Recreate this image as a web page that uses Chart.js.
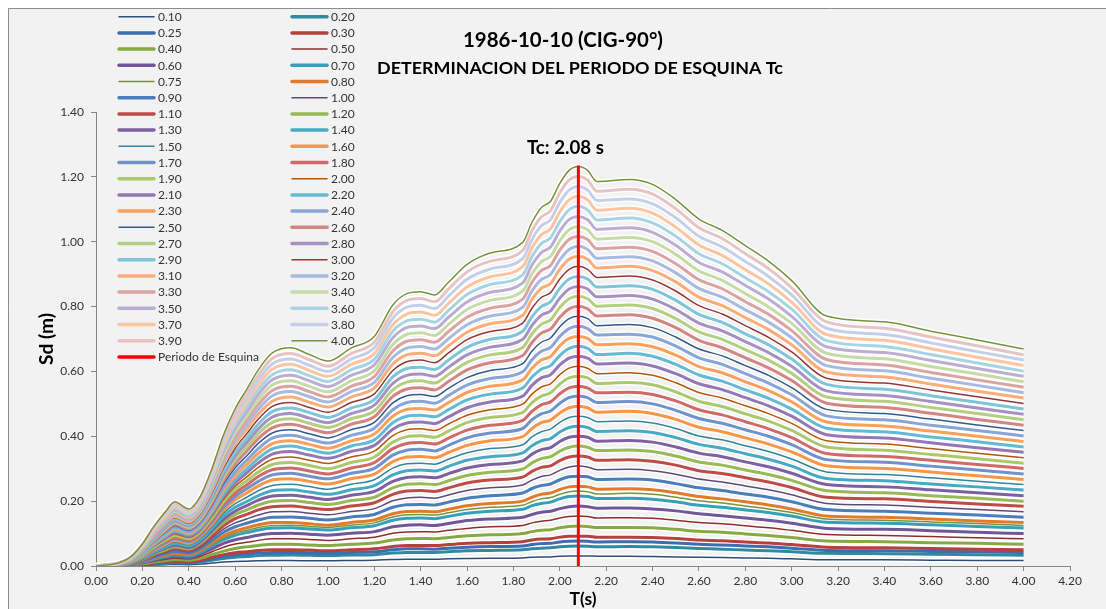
<!DOCTYPE html>
<html>
<head>
<meta charset="utf-8">
<style>
  html, body { margin: 0; padding: 0; background: #fff; overflow: hidden; }
  canvas { display: block; }
</style>
<script src="https://cdn.jsdelivr.net/npm/chart.js"></script>
</head>
<body>
<canvas id="grafico" width="1106" height="609"></canvas>
<script>
// Periodos T (s) donde se leyeron los valores
const periodos = [0, 0.1, 0.15, 0.2, 0.25, 0.3, 0.34, 0.4, 0.45, 0.5, 0.55, 0.6, 0.65, 0.7, 0.76, 0.84, 0.92, 1.0, 1.1, 1.2, 1.28, 1.34, 1.4, 1.46, 1.52, 1.6, 1.7, 1.84, 1.88, 1.92, 1.96, 2.0, 2.04, 2.08, 2.12, 2.16, 2.3, 2.4, 2.5, 2.6, 2.7, 2.8, 2.9, 3.0, 3.15, 3.4, 3.6, 3.8, 4.0];

// Sd (m) para cada serie
const sd_0_10 = [0,0.000,0.001,0.002,0.003,0.004,0.005,0.004,0.006,0.009,0.012,0.014,0.015,0.016,0.017,0.017,0.016,0.016,0.017,0.018,0.020,0.021,0.021,0.021,0.022,0.023,0.024,0.025,0.027,0.028,0.028,0.030,0.031,0.031,0.031,0.030,0.030,0.029,0.028,0.027,0.026,0.025,0.024,0.022,0.019,0.019,0.018,0.017,0.017];
const sd_0_20 = [0,0.001,0.001,0.003,0.006,0.008,0.010,0.009,0.012,0.018,0.023,0.027,0.029,0.032,0.033,0.034,0.033,0.032,0.034,0.035,0.040,0.042,0.042,0.042,0.044,0.047,0.048,0.050,0.053,0.055,0.056,0.059,0.061,0.062,0.061,0.059,0.060,0.059,0.057,0.054,0.052,0.049,0.047,0.044,0.039,0.038,0.036,0.035,0.033];
const sd_0_25 = [0,0.001,0.002,0.004,0.008,0.011,0.012,0.011,0.015,0.022,0.029,0.034,0.037,0.040,0.042,0.042,0.041,0.040,0.042,0.044,0.050,0.053,0.053,0.052,0.055,0.058,0.060,0.062,0.066,0.069,0.070,0.074,0.076,0.077,0.076,0.074,0.075,0.074,0.071,0.067,0.065,0.062,0.059,0.055,0.048,0.047,0.045,0.044,0.042];
const sd_0_30 = [0,0.001,0.002,0.005,0.009,0.013,0.015,0.013,0.018,0.027,0.035,0.041,0.044,0.048,0.050,0.050,0.049,0.047,0.050,0.053,0.060,0.063,0.063,0.063,0.066,0.070,0.072,0.075,0.080,0.083,0.084,0.089,0.092,0.092,0.092,0.089,0.089,0.088,0.085,0.080,0.078,0.074,0.071,0.066,0.058,0.056,0.054,0.052,0.050];
const sd_0_40 = [0,0.001,0.003,0.007,0.012,0.017,0.020,0.018,0.024,0.035,0.046,0.054,0.059,0.063,0.067,0.067,0.065,0.063,0.067,0.071,0.080,0.084,0.085,0.084,0.088,0.093,0.096,0.100,0.106,0.110,0.112,0.118,0.122,0.123,0.122,0.119,0.119,0.118,0.113,0.107,0.104,0.099,0.094,0.088,0.077,0.075,0.072,0.070,0.067];
const sd_0_50 = [0,0.001,0.004,0.009,0.015,0.021,0.025,0.022,0.030,0.044,0.058,0.068,0.073,0.079,0.084,0.084,0.082,0.079,0.084,0.089,0.101,0.105,0.106,0.105,0.110,0.116,0.121,0.125,0.133,0.138,0.141,0.148,0.153,0.154,0.153,0.148,0.149,0.147,0.141,0.134,0.130,0.124,0.118,0.110,0.097,0.094,0.091,0.087,0.084];
const sd_0_60 = [0,0.002,0.004,0.010,0.018,0.025,0.030,0.026,0.036,0.053,0.070,0.081,0.088,0.095,0.100,0.101,0.098,0.095,0.101,0.106,0.121,0.126,0.127,0.125,0.131,0.140,0.145,0.150,0.159,0.166,0.169,0.177,0.183,0.185,0.183,0.178,0.179,0.176,0.170,0.161,0.155,0.148,0.141,0.132,0.116,0.113,0.109,0.104,0.100];
const sd_0_70 = [0,0.002,0.005,0.012,0.021,0.029,0.035,0.031,0.042,0.062,0.081,0.095,0.103,0.111,0.117,0.118,0.114,0.111,0.118,0.124,0.141,0.147,0.148,0.146,0.153,0.163,0.169,0.175,0.186,0.193,0.197,0.207,0.214,0.216,0.214,0.208,0.209,0.206,0.198,0.187,0.181,0.173,0.165,0.154,0.135,0.132,0.127,0.122,0.117];
const sd_0_75 = [0,0.002,0.005,0.013,0.023,0.032,0.037,0.033,0.045,0.066,0.087,0.102,0.110,0.119,0.125,0.126,0.122,0.119,0.126,0.133,0.151,0.158,0.159,0.157,0.164,0.174,0.181,0.187,0.199,0.207,0.211,0.221,0.229,0.231,0.229,0.222,0.224,0.221,0.212,0.201,0.194,0.185,0.176,0.165,0.145,0.141,0.136,0.131,0.125];
const sd_0_80 = [0,0.002,0.006,0.014,0.024,0.034,0.040,0.035,0.048,0.071,0.093,0.108,0.118,0.127,0.134,0.134,0.130,0.126,0.134,0.142,0.161,0.168,0.169,0.167,0.175,0.186,0.193,0.200,0.212,0.221,0.225,0.236,0.244,0.246,0.244,0.237,0.238,0.235,0.226,0.214,0.207,0.198,0.188,0.176,0.154,0.150,0.145,0.139,0.134];
const sd_0_90 = [0,0.002,0.006,0.015,0.027,0.038,0.045,0.040,0.054,0.079,0.104,0.121,0.132,0.142,0.150,0.151,0.147,0.142,0.151,0.159,0.181,0.189,0.190,0.188,0.197,0.209,0.217,0.225,0.239,0.248,0.253,0.266,0.275,0.277,0.275,0.267,0.268,0.265,0.254,0.241,0.233,0.222,0.212,0.198,0.174,0.169,0.163,0.157,0.150];
const sd_1_00 = [0,0.003,0.007,0.017,0.031,0.042,0.050,0.044,0.059,0.087,0.114,0.133,0.145,0.157,0.167,0.168,0.163,0.158,0.168,0.177,0.201,0.210,0.212,0.209,0.219,0.233,0.241,0.250,0.265,0.276,0.281,0.295,0.305,0.308,0.305,0.297,0.298,0.294,0.283,0.268,0.259,0.247,0.235,0.220,0.193,0.188,0.181,0.174,0.167];
const sd_1_10 = [0,0.003,0.008,0.019,0.034,0.046,0.054,0.048,0.065,0.094,0.124,0.146,0.159,0.173,0.183,0.185,0.179,0.174,0.185,0.195,0.221,0.231,0.233,0.230,0.241,0.256,0.265,0.274,0.292,0.304,0.309,0.325,0.336,0.339,0.336,0.326,0.328,0.323,0.311,0.294,0.285,0.272,0.259,0.242,0.212,0.207,0.199,0.191,0.184];
const sd_1_20 = [0,0.003,0.008,0.020,0.037,0.050,0.059,0.053,0.070,0.102,0.134,0.158,0.173,0.188,0.200,0.202,0.196,0.190,0.202,0.212,0.241,0.252,0.254,0.251,0.263,0.279,0.289,0.299,0.318,0.331,0.337,0.354,0.366,0.370,0.366,0.356,0.358,0.353,0.339,0.321,0.311,0.296,0.282,0.264,0.232,0.226,0.217,0.209,0.200];
const sd_1_30 = [0,0.003,0.009,0.022,0.040,0.055,0.064,0.057,0.075,0.109,0.144,0.169,0.186,0.203,0.216,0.218,0.212,0.205,0.218,0.230,0.261,0.273,0.275,0.272,0.285,0.302,0.313,0.324,0.345,0.359,0.365,0.384,0.397,0.400,0.397,0.385,0.387,0.382,0.367,0.348,0.337,0.321,0.306,0.286,0.251,0.244,0.235,0.226,0.217];
const sd_1_40 = [0,0.004,0.010,0.024,0.043,0.059,0.069,0.062,0.080,0.116,0.154,0.181,0.199,0.217,0.232,0.235,0.228,0.221,0.235,0.248,0.281,0.294,0.296,0.293,0.307,0.326,0.337,0.349,0.371,0.386,0.393,0.413,0.427,0.431,0.427,0.415,0.417,0.412,0.396,0.375,0.363,0.346,0.329,0.308,0.270,0.263,0.253,0.244,0.234];
const sd_1_50 = [0,0.004,0.011,0.026,0.046,0.063,0.074,0.066,0.086,0.123,0.163,0.192,0.212,0.232,0.248,0.252,0.245,0.237,0.252,0.266,0.302,0.315,0.317,0.314,0.329,0.349,0.362,0.374,0.398,0.414,0.422,0.443,0.458,0.462,0.458,0.445,0.447,0.441,0.424,0.401,0.389,0.371,0.353,0.330,0.290,0.282,0.272,0.261,0.251];
const sd_1_60 = [0,0.004,0.011,0.027,0.049,0.067,0.079,0.070,0.091,0.129,0.172,0.204,0.225,0.247,0.265,0.269,0.261,0.253,0.269,0.283,0.322,0.336,0.338,0.334,0.350,0.372,0.386,0.399,0.424,0.442,0.450,0.472,0.488,0.493,0.488,0.474,0.477,0.470,0.452,0.428,0.414,0.395,0.376,0.352,0.309,0.301,0.290,0.278,0.267];
const sd_1_70 = [0,0.004,0.012,0.029,0.052,0.071,0.084,0.075,0.095,0.136,0.181,0.215,0.238,0.261,0.281,0.286,0.277,0.269,0.286,0.301,0.342,0.357,0.360,0.355,0.372,0.395,0.410,0.424,0.451,0.469,0.478,0.502,0.519,0.524,0.519,0.504,0.507,0.500,0.480,0.455,0.440,0.420,0.400,0.374,0.328,0.320,0.308,0.296,0.284];
const sd_1_80 = [0,0.005,0.013,0.031,0.055,0.076,0.089,0.079,0.100,0.142,0.190,0.225,0.250,0.276,0.297,0.302,0.293,0.284,0.302,0.319,0.362,0.378,0.381,0.376,0.394,0.419,0.434,0.449,0.477,0.497,0.506,0.531,0.549,0.554,0.549,0.534,0.536,0.529,0.509,0.482,0.466,0.445,0.423,0.396,0.347,0.338,0.326,0.313,0.301];
const sd_1_90 = [0,0.005,0.013,0.032,0.058,0.080,0.094,0.084,0.105,0.148,0.198,0.236,0.263,0.290,0.313,0.319,0.310,0.300,0.319,0.336,0.382,0.399,0.402,0.397,0.416,0.442,0.458,0.474,0.504,0.524,0.534,0.561,0.580,0.585,0.580,0.563,0.566,0.559,0.537,0.508,0.492,0.469,0.447,0.418,0.367,0.357,0.344,0.331,0.317];
const sd_2_00 = [0,0.005,0.014,0.034,0.061,0.084,0.099,0.088,0.109,0.154,0.206,0.246,0.275,0.304,0.329,0.336,0.326,0.316,0.336,0.354,0.402,0.420,0.423,0.418,0.438,0.465,0.482,0.499,0.530,0.552,0.562,0.590,0.610,0.616,0.610,0.593,0.596,0.588,0.565,0.535,0.518,0.494,0.470,0.440,0.386,0.376,0.362,0.348,0.334];
const sd_2_10 = [0,0.005,0.015,0.036,0.064,0.088,0.104,0.092,0.114,0.160,0.214,0.256,0.287,0.318,0.345,0.353,0.342,0.332,0.353,0.372,0.422,0.441,0.444,0.439,0.460,0.488,0.506,0.524,0.557,0.580,0.590,0.620,0.641,0.647,0.641,0.623,0.626,0.617,0.593,0.562,0.544,0.519,0.494,0.462,0.405,0.395,0.380,0.365,0.351];
const sd_2_20 = [0,0.006,0.015,0.037,0.067,0.092,0.109,0.097,0.118,0.165,0.222,0.266,0.299,0.332,0.361,0.370,0.359,0.348,0.370,0.389,0.442,0.462,0.465,0.460,0.482,0.512,0.530,0.549,0.583,0.607,0.618,0.649,0.671,0.678,0.671,0.652,0.656,0.647,0.622,0.589,0.570,0.543,0.517,0.484,0.425,0.414,0.398,0.383,0.367];
const sd_2_30 = [0,0.006,0.016,0.039,0.070,0.097,0.114,0.101,0.124,0.173,0.232,0.278,0.313,0.347,0.377,0.386,0.375,0.363,0.386,0.407,0.462,0.483,0.486,0.481,0.504,0.535,0.554,0.574,0.610,0.635,0.646,0.679,0.702,0.708,0.702,0.682,0.685,0.676,0.650,0.615,0.596,0.568,0.541,0.506,0.444,0.432,0.416,0.400,0.384];
const sd_2_40 = [0,0.006,0.017,0.041,0.073,0.101,0.119,0.106,0.129,0.180,0.242,0.290,0.326,0.362,0.394,0.403,0.391,0.379,0.403,0.425,0.482,0.504,0.508,0.502,0.526,0.558,0.578,0.599,0.636,0.662,0.674,0.708,0.732,0.739,0.732,0.712,0.715,0.706,0.678,0.642,0.622,0.593,0.564,0.528,0.463,0.451,0.434,0.418,0.401];
const sd_2_50 = [0,0.006,0.018,0.043,0.076,0.105,0.124,0.110,0.135,0.188,0.253,0.303,0.340,0.378,0.410,0.420,0.408,0.395,0.420,0.443,0.503,0.525,0.529,0.523,0.548,0.581,0.603,0.624,0.663,0.690,0.703,0.738,0.763,0.770,0.763,0.741,0.745,0.735,0.706,0.669,0.648,0.618,0.588,0.550,0.483,0.470,0.453,0.435,0.418];
const sd_2_60 = [0,0.007,0.018,0.044,0.079,0.109,0.129,0.114,0.140,0.195,0.263,0.315,0.354,0.393,0.426,0.437,0.424,0.411,0.437,0.460,0.523,0.546,0.550,0.543,0.569,0.605,0.627,0.649,0.689,0.718,0.731,0.767,0.793,0.801,0.793,0.771,0.775,0.764,0.735,0.696,0.673,0.642,0.611,0.572,0.502,0.489,0.471,0.452,0.434];
const sd_2_70 = [0,0.007,0.019,0.046,0.082,0.113,0.134,0.119,0.145,0.203,0.273,0.327,0.367,0.408,0.443,0.454,0.440,0.427,0.454,0.478,0.543,0.567,0.571,0.564,0.591,0.628,0.651,0.674,0.716,0.745,0.759,0.797,0.824,0.832,0.824,0.801,0.805,0.794,0.763,0.722,0.699,0.667,0.635,0.594,0.521,0.508,0.489,0.470,0.451];
const sd_2_80 = [0,0.007,0.020,0.048,0.085,0.118,0.139,0.123,0.151,0.210,0.283,0.339,0.381,0.423,0.459,0.470,0.456,0.442,0.470,0.496,0.563,0.588,0.592,0.585,0.613,0.651,0.675,0.699,0.742,0.773,0.787,0.826,0.854,0.862,0.854,0.830,0.834,0.823,0.791,0.749,0.725,0.692,0.658,0.616,0.540,0.526,0.507,0.487,0.468];
const sd_2_90 = [0,0.007,0.020,0.049,0.088,0.122,0.144,0.128,0.156,0.218,0.293,0.351,0.394,0.438,0.476,0.487,0.473,0.458,0.487,0.513,0.583,0.609,0.613,0.606,0.635,0.674,0.699,0.724,0.769,0.800,0.815,0.856,0.885,0.893,0.885,0.860,0.864,0.853,0.819,0.776,0.751,0.716,0.682,0.638,0.560,0.545,0.525,0.505,0.484];
const sd_3_00 = [0,0.008,0.021,0.051,0.092,0.126,0.149,0.132,0.161,0.225,0.303,0.363,0.408,0.453,0.492,0.504,0.489,0.474,0.504,0.531,0.603,0.630,0.635,0.627,0.657,0.698,0.723,0.749,0.795,0.828,0.843,0.885,0.915,0.924,0.915,0.890,0.894,0.882,0.848,0.803,0.777,0.741,0.705,0.660,0.579,0.564,0.543,0.522,0.501];
const sd_3_10 = [0,0.008,0.022,0.053,0.095,0.130,0.153,0.136,0.167,0.233,0.313,0.375,0.422,0.468,0.508,0.521,0.505,0.490,0.521,0.549,0.623,0.651,0.656,0.648,0.679,0.721,0.747,0.773,0.822,0.856,0.871,0.915,0.946,0.955,0.946,0.919,0.924,0.911,0.876,0.829,0.803,0.766,0.729,0.682,0.598,0.583,0.561,0.539,0.518];
const sd_3_20 = [0,0.008,0.022,0.054,0.098,0.134,0.158,0.141,0.172,0.240,0.323,0.387,0.435,0.483,0.525,0.538,0.522,0.506,0.538,0.566,0.643,0.672,0.677,0.669,0.701,0.744,0.771,0.798,0.848,0.883,0.899,0.944,0.976,0.986,0.976,0.949,0.954,0.941,0.904,0.856,0.829,0.790,0.752,0.704,0.618,0.602,0.579,0.557,0.534];
const sd_3_30 = [0,0.008,0.023,0.056,0.101,0.139,0.163,0.145,0.178,0.248,0.333,0.399,0.449,0.498,0.541,0.554,0.538,0.521,0.554,0.584,0.663,0.693,0.698,0.690,0.723,0.767,0.795,0.823,0.875,0.911,0.927,0.974,1.007,1.016,1.007,0.978,0.983,0.970,0.932,0.883,0.855,0.815,0.776,0.726,0.637,0.620,0.597,0.574,0.551];
const sd_3_40 = [0,0.009,0.024,0.058,0.104,0.143,0.168,0.150,0.183,0.255,0.343,0.411,0.462,0.513,0.558,0.571,0.554,0.537,0.571,0.602,0.683,0.714,0.719,0.711,0.745,0.791,0.819,0.848,0.901,0.938,0.955,1.003,1.037,1.047,1.037,1.008,1.013,1.000,0.961,0.910,0.881,0.840,0.799,0.748,0.656,0.639,0.615,0.592,0.568];
const sd_3_50 = [0,0.009,0.025,0.060,0.107,0.147,0.173,0.154,0.188,0.263,0.354,0.424,0.476,0.529,0.574,0.588,0.571,0.553,0.588,0.620,0.704,0.735,0.740,0.732,0.767,0.814,0.844,0.873,0.928,0.966,0.984,1.033,1.068,1.078,1.068,1.038,1.043,1.029,0.989,0.936,0.907,0.865,0.823,0.770,0.676,0.658,0.634,0.609,0.585];
const sd_3_60 = [0,0.009,0.025,0.061,0.110,0.151,0.178,0.158,0.194,0.270,0.364,0.436,0.490,0.544,0.590,0.605,0.587,0.569,0.605,0.637,0.724,0.756,0.761,0.752,0.788,0.837,0.868,0.898,0.954,0.994,1.012,1.062,1.098,1.109,1.098,1.067,1.073,1.058,1.017,0.963,0.932,0.889,0.846,0.792,0.695,0.677,0.652,0.626,0.601];
const sd_3_70 = [0,0.009,0.026,0.063,0.113,0.155,0.183,0.163,0.199,0.278,0.374,0.448,0.503,0.559,0.607,0.622,0.603,0.585,0.622,0.655,0.744,0.777,0.783,0.773,0.810,0.860,0.892,0.923,0.981,1.021,1.040,1.092,1.129,1.140,1.129,1.097,1.103,1.088,1.045,0.990,0.958,0.914,0.870,0.814,0.714,0.696,0.670,0.644,0.618];
const sd_3_80 = [0,0.010,0.027,0.065,0.116,0.160,0.188,0.167,0.204,0.285,0.384,0.460,0.517,0.574,0.623,0.638,0.619,0.600,0.638,0.673,0.764,0.798,0.804,0.794,0.832,0.884,0.916,0.948,1.007,1.049,1.068,1.121,1.159,1.170,1.159,1.127,1.132,1.117,1.074,1.017,0.984,0.939,0.893,0.836,0.733,0.714,0.688,0.661,0.635];
const sd_3_90 = [0,0.010,0.027,0.066,0.119,0.164,0.193,0.172,0.210,0.293,0.394,0.472,0.530,0.589,0.640,0.655,0.636,0.616,0.655,0.690,0.784,0.819,0.825,0.815,0.854,0.907,0.940,0.973,1.034,1.076,1.096,1.151,1.190,1.201,1.190,1.156,1.162,1.147,1.102,1.043,1.010,0.963,0.917,0.858,0.753,0.733,0.706,0.679,0.651];
const sd_4_00 = [0,0.010,0.028,0.068,0.122,0.168,0.198,0.176,0.215,0.300,0.405,0.485,0.545,0.605,0.657,0.673,0.652,0.632,0.672,0.708,0.805,0.840,0.846,0.836,0.875,0.930,0.965,0.998,1.060,1.105,1.125,1.180,1.220,1.232,1.220,1.186,1.192,1.177,1.130,1.070,1.035,0.988,0.940,0.880,0.771,0.753,0.724,0.697,0.669];

const etiquetasSeries = ['0.10','0.20','0.25','0.30','0.40','0.50','0.60','0.70','0.75','0.80','0.90','1.00','1.10','1.20','1.30','1.40','1.50','1.60','1.70','1.80','1.90','2.00','2.10','2.20','2.30','2.40','2.50','2.60','2.70','2.80','2.90','3.00','3.10','3.20','3.30','3.40','3.50','3.60','3.70','3.80','3.90','4.00'];
const valoresSeries = [sd_0_10, sd_0_20, sd_0_25, sd_0_30, sd_0_40, sd_0_50, sd_0_60, sd_0_70, sd_0_75, sd_0_80, sd_0_90, sd_1_00, sd_1_10, sd_1_20, sd_1_30, sd_1_40, sd_1_50, sd_1_60, sd_1_70, sd_1_80, sd_1_90, sd_2_00, sd_2_10, sd_2_20, sd_2_30, sd_2_40, sd_2_50, sd_2_60, sd_2_70, sd_2_80, sd_2_90, sd_3_00, sd_3_10, sd_3_20, sd_3_30, sd_3_40, sd_3_50, sd_3_60, sd_3_70, sd_3_80, sd_3_90, sd_4_00];

// Periodo de esquina
const tcValor = 2.08;
const tcLineaX = [2.08, 2.08];
const tcLineaY = [0, 1.235];

// Ejes
const xTicks = [0, 0.2, 0.4, 0.6, 0.8, 1.0, 1.2, 1.4, 1.6, 1.8, 2.0, 2.2, 2.4, 2.6, 2.8, 3.0, 3.2, 3.4, 3.6, 3.8, 4.0, 4.2];
const yTicks = [0, 0.2, 0.4, 0.6, 0.8, 1.0, 1.2, 1.4];

// Estilos (colores tipo Excel 2010)
const coloresSeries = ['#2c4d75','#2f8a9e','#3d6cb0','#b5403c','#87a942','#8c2f2c','#71579a','#35a0b8','#77933c','#e27a2c',
  '#4a7ebb','#5f497a','#be4b48','#98b954','#7d60a0','#46aac5','#31859c','#f79646','#6d92cc','#cf6a67',
  '#abc96c','#b65708','#9478b5','#63bad2','#f9a05d','#88a5d8','#335a8a','#d48583','#b4cf80','#a691c3',
  '#7fc5d9','#953735','#fbad79','#a7badf','#dba4a2','#c6dca6','#bbaed3','#a6d4e4','#fcc4a0','#c4d0ea',
  '#e6c4c3','#77933c'];
const seriesFinas = ['0.10','0.50','0.75','1.00','1.50','2.00','2.50','3.00','4.00'];

const FUENTE = 'Lato';
Chart.defaults.font.family = FUENTE;
Chart.defaults.color = '#333333';

// Ajusta el tamaño de la fuente para que el texto ocupe un ancho dado
function fuenteAjustada(ctx, texto, ancho, peso) {
    ctx.font = peso + ' 20px ' + FUENTE;
    const w = ctx.measureText(texto).width;
    return peso + ' ' + (20 * ancho / w).toFixed(2) + 'px ' + FUENTE;
}

const datasets = valoresSeries.map((serie, i) => ({
    label: etiquetasSeries[i],
    data: serie.map((v, j) => ({ x: periodos[j], y: v })),
    borderColor: coloresSeries[i],
    borderWidth: seriesFinas.includes(etiquetasSeries[i]) ? 1.5 : 3,
    pointRadius: 0,
    cubicInterpolationMode: 'monotone',
    order: 100 - i
}));

datasets.push({
    label: 'Periodo de Esquina',
    data: tcLineaX.map((x, j) => ({ x: x, y: tcLineaY[j] })),
    borderColor: '#ff0000',
    borderWidth: 3,
    pointRadius: 0,
    order: 0
});

// Plugin para el marco, títulos y leyenda al estilo Excel
const estiloExcel = {
    id: 'estiloExcel',
    beforeDraw(chart) {
        const ctx = chart.ctx;
        ctx.save();
        ctx.fillStyle = '#ffffff';
        ctx.fillRect(0, 0, chart.width, chart.height);
        ctx.fillStyle = '#f2f2f2';
        ctx.fillRect(8, 8, chart.width, chart.height);
        ctx.strokeStyle = '#8c8c8c';
        ctx.lineWidth = 1;
        ctx.beginPath();
        ctx.moveTo(8.5, chart.height);
        ctx.lineTo(8.5, 8.5);
        ctx.lineTo(chart.width, 8.5);
        ctx.stroke();
        ctx.restore();
    },
    // halo blanco bajo las curvas (como en Excel)
    beforeDatasetsDraw(chart) {
        const ctx = chart.ctx;
        const area = chart.chartArea;
        ctx.save();
        ctx.beginPath();
        ctx.rect(area.left, area.top - 2, area.right - area.left, area.bottom - area.top + 2);
        ctx.clip();
        ctx.strokeStyle = '#ffffff';
        ctx.lineJoin = 'round';
        chart.data.datasets.forEach((ds, i) => {
            if (i >= valoresSeries.length) return;
            const linea = chart.getDatasetMeta(i).dataset;
            if (!linea || typeof linea.path !== 'function') return;
            ctx.lineWidth = ds.borderWidth + 3;
            ctx.beginPath();
            linea.path(ctx);
            ctx.stroke();
        });
        ctx.restore();
    },
    afterDraw(chart) {
        const ctx = chart.ctx;
        const xs = chart.scales.x, ys = chart.scales.y;
        const area = chart.chartArea;
        ctx.save();
        ctx.fillStyle = '#000000';
        ctx.textAlign = 'center';
        ctx.textBaseline = 'middle';

        const titulo = '1986-10-10 (CIG-90°)';
        ctx.font = fuenteAjustada(ctx, titulo, 200, 'bold');
        ctx.fillText(titulo, 563, 40);

        const subtitulo = 'DETERMINACION DEL PERIODO DE ESQUINA Tc';
        ctx.font = fuenteAjustada(ctx, subtitulo, 406, 'bold');
        ctx.fillText(subtitulo, 580, 68);

        const tcTexto = 'Tc: ' + tcValor.toFixed(2) + ' s';
        ctx.font = fuenteAjustada(ctx, tcTexto, 77, 'bold');
        ctx.fillText(tcTexto, xs.getPixelForValue(tcValor) - 13, ys.getPixelForValue(tcLineaY[1]) - 18);

        ctx.font = fuenteAjustada(ctx, 'T(s)', 27, 'bold');
        ctx.fillText('T(s)', (area.left + area.right) / 2, 599);

        ctx.save();
        ctx.translate(47, (area.top + area.bottom) / 2);
        ctx.rotate(-Math.PI / 2);
        ctx.font = fuenteAjustada(ctx, 'Sd (m)', 52, 'bold');
        ctx.fillText('Sd (m)', 0, 0);
        ctx.restore();

        // leyenda en dos columnas
        ctx.textAlign = 'left';
        ctx.font = '12px ' + FUENTE;
        chart.data.datasets.forEach((ds, i) => {
            const fila = Math.floor(i / 2);
            const col = i % 2;
            const x0 = col === 0 ? 118 : 291;
            const y = 16.7 + 16.2 * fila;
            ctx.strokeStyle = ds.borderColor;
            ctx.lineWidth = ds.borderWidth > 2 ? 3.5 : 1.5;
            ctx.lineCap = 'round';
            ctx.beginPath();
            ctx.moveTo(x0 + 1, y);
            ctx.lineTo(x0 + 36, y);
            ctx.stroke();
            ctx.fillStyle = '#333333';
            ctx.fillText(ds.label, x0 + 40, y + 0.5);
        });
        ctx.restore();
    }
};

const chart = new Chart(document.getElementById('grafico'), {
    type: 'line',
    data: { datasets: datasets },
    plugins: [estiloExcel],
    options: {
        responsive: false,
        animation: false,
        devicePixelRatio: 1,
        layout: { padding: { left: 0, top: 112, right: 36, bottom: 0 } },
        plugins: { legend: { display: false }, title: { display: false }, tooltip: { enabled: false } },
        scales: {
            x: {
                type: 'linear',
                min: 0,
                max: 4.2,
                afterFit: (s) => { s.height = 43; },
                afterBuildTicks: (s) => { s.ticks = xTicks.map(v => ({ value: v })); },
                ticks: { font: { size: 12 }, color: '#333333', padding: 3, maxRotation: 0, autoSkip: false,
                         callback: (v) => Number(v).toFixed(2) },
                grid: { drawOnChartArea: false, color: '#868686', tickLength: 5 },
                border: { color: '#868686', width: 1 }
            },
            y: {
                type: 'linear',
                min: 0,
                max: 1.4,
                afterFit: (s) => { s.width = 96; },
                afterBuildTicks: (s) => { s.ticks = yTicks.map(v => ({ value: v })); },
                ticks: { font: { size: 12 }, color: '#333333', padding: 7,
                         callback: (v) => Number(v).toFixed(2) },
                grid: { drawOnChartArea: false, color: '#868686', tickLength: 5 },
                border: { color: '#868686', width: 1 }
            }
        }
    }
});
</script>
</body>
</html>
